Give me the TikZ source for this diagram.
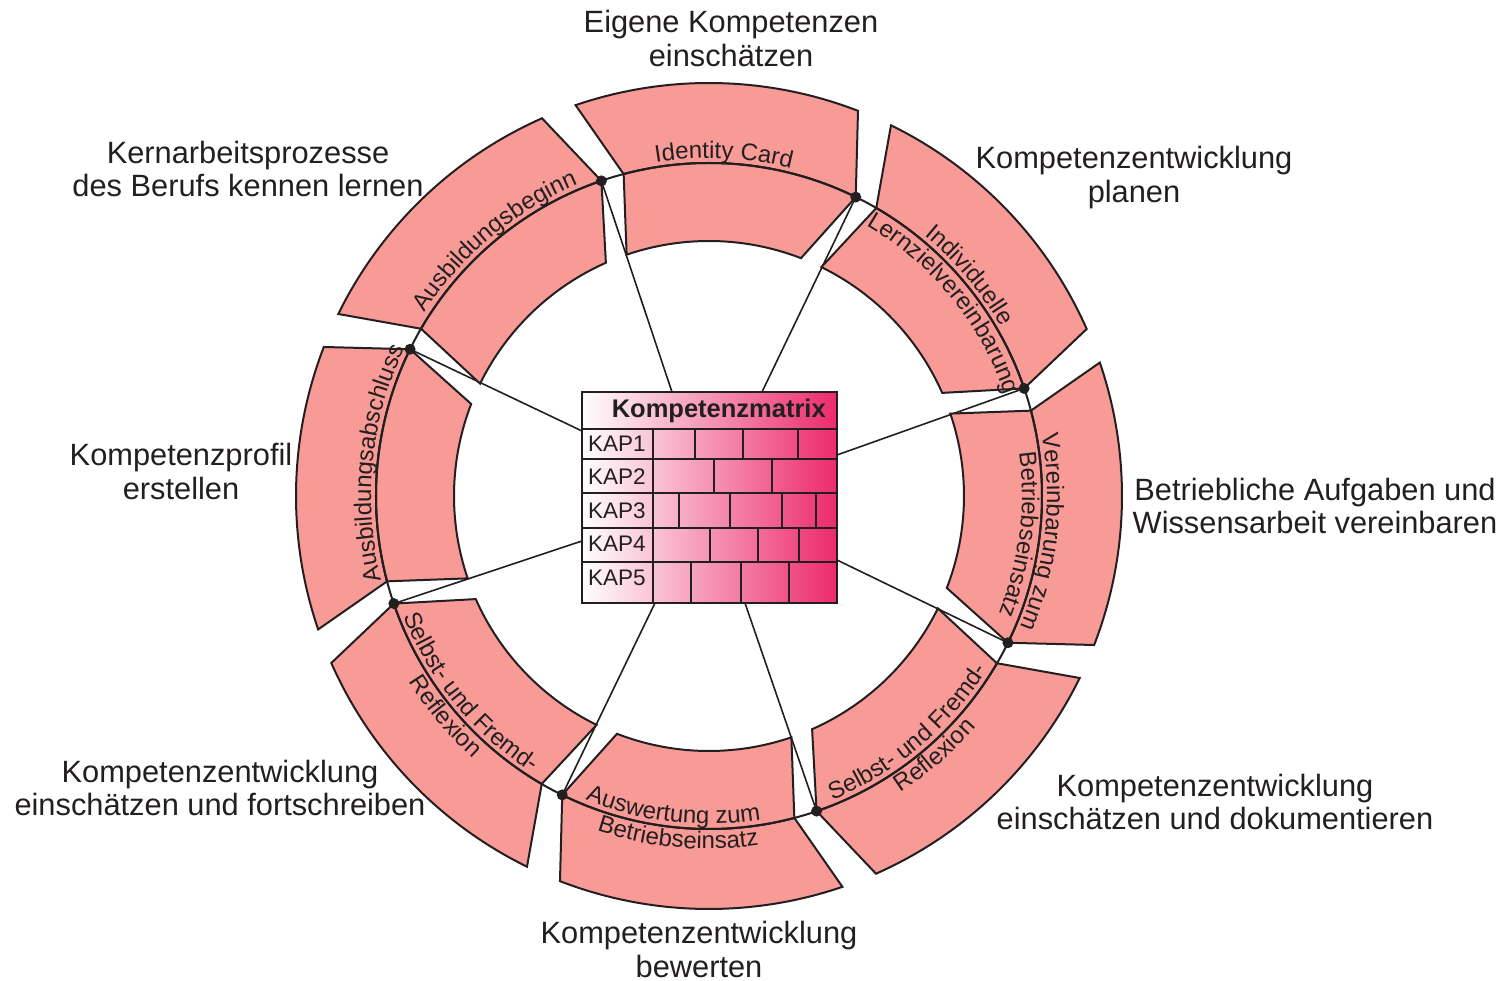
\documentclass[tikz,border=0pt]{standalone}
\usepackage{fontspec}
\setmainfont{Liberation Sans}
\usetikzlibrary{decorations.text}
\definecolor{ink}{HTML}{231F20}
\definecolor{salmon}{HTML}{F89B97}
\definecolor{boxpink}{HTML}{EC2A6C}
\newcommand\arcfont{\fontsize{24}{24}\selectfont}
\newcommand\lblfont{\fontsize{30.8}{33.5}\selectfont}
\newcommand\arctextcw[3]{%
  \path[decorate, decoration={text along path, text align=center, text={|\arcfont\color{ink}|#3}}]
    ({#2+40}:#1) arc[start angle={#2+40}, end angle={#2-40}, radius=#1];}
\newcommand\arctextccw[3]{%
  \path[decorate, decoration={text along path, text align=center, text={|\arcfont\color{ink}|#3}}]
    ({#2-40}:#1) arc[start angle={#2-40}, end angle={#2+40}, radius=#1];}
\begin{document}
\begin{tikzpicture}[x=1pt, y=1pt,
  piece/.style={draw=ink, fill=salmon, line width=2pt, line join=miter},
  conn/.style={draw=ink, line width=1.6pt},
  lbl/.style={align=center, font=\lblfont, text=ink, inner sep=0pt},
  kap/.style={anchor=west, font=\fontsize{22.5}{23}\selectfont, text=ink, inner sep=0pt},
  grid/.style={draw=ink, line width=2pt}]
\useasboundingbox (-709,-485) rectangle (796,496);

% dots on middle circle
\foreach \i/\a in {1/108.85,2/63.85,3/18.85,4/-26.15,5/-71.15,6/-116.15,7/198.85,8/153.85}
  \coordinate (d\i) at (\a:333);
% box attachment points
\coordinate (b1) at (-37,104);
\coordinate (b2) at (53,104);
\coordinate (b3) at (128,41);
\coordinate (b4) at (128,-64);
\coordinate (b5) at (36,-107);
\coordinate (b6) at (-54,-107);
\coordinate (b7) at (-127,-45);
\coordinate (b8) at (-127,65);

% connectors
\foreach \i in {1,...,8} \draw[conn] (d\i) -- (b\i);

% ring pieces
\foreach \d in {18.85,63.85,108.85,153.85,198.85,243.85,288.85,333.85} {
  \draw[piece] ({\d+45}:413) arc[start angle={\d+45}, end angle={\d+5}, radius=413]
     -- (\d:333) arc[start angle=\d, end angle={\d+41}, radius=333] -- cycle;
  \draw[piece] ({\d+41}:333) arc[start angle={\d+41}, end angle=\d, radius=333]
     -- ({\d+5}:255) arc[start angle={\d+5}, end angle={\d+45}, radius=255] -- cycle;
}
\draw[draw=ink, line width=2pt] (0,0) circle[radius=333];
\foreach \i in {1,...,8} \fill[ink] (d\i) circle[radius=5.5];

% central matrix
\node[name=km, draw=ink, line width=2pt, left color=white, right color=boxpink,
      minimum width=255pt, minimum height=211pt, inner sep=0pt] at (0.5,-1.5) {};
\draw[grid] (-127,66.7) -- (128,66.7);
\foreach \y in {37,2.7,-31.7,-65.7} \draw[grid] (-127,\y) -- (128,\y);
\draw[grid] (-55.7,66.7) -- (-55.7,-107);
\foreach \x in {-14,34.3,88.7} \draw[grid] (\x,66.7) -- (\x,37);
\foreach \x in {5.3,62.7} \draw[grid] (\x,37) -- (\x,2.7);
\foreach \x in {-29.7,21,73.3,106.7} \draw[grid] (\x,2.7) -- (\x,-31.7);
\foreach \x in {1,49.3,90.3} \draw[grid] (\x,-31.7) -- (\x,-65.7);
\foreach \x in {-18.3,32,80} \draw[grid] (\x,-65.7) -- (\x,-107);
\node[font=\bfseries\fontsize{25.5}{26}\selectfont, text=ink, inner sep=0pt] (hdr) at (9.8,85.5) {Kompetenzmatrix};
\node[kap] (k1) at (-121,52.7) {KAP1};
\node[kap] (k2) at (-121,19.3) {KAP2};
\node[kap] (k3) at (-121,-15.2) {KAP3};
\node[kap] (k4) at (-121,-48) {KAP4};
\node[kap] (k5) at (-121,-81.5) {KAP5};

% texts along the ring
\arctextcw{338}{130}{Ausbildungsbeginn}
\arctextcw{338}{87.5}{Identity Card}
\arctextcw{338}{40.3}{Individuelle}
\arctextcw{313}{39.3}{Lernzielvereinbarung}
\arctextcw{338}{-6.2}{Vereinbarung zum}
\arctextcw{313}{-7}{Betriebseinsatz}
\arctextcw{338}{174.3}{Ausbildungsabschluss}
\arctextccw{328}{-50}{Selbst- und Fremd-}
\arctextccw{353}{-49}{Reflexion}
\arctextccw{328}{-96.5}{Auswertung zum}
\arctextccw{353}{-95.2}{Betriebseinsatz}
\arctextccw{328}{219.4}{Selbst- und Fremd-}
\arctextccw{353}{219.9}{Reflexion}

% outer labels
\node[lbl] (l1) at (22,457.5) {Eigene Kompetenzen\\einschätzen};
\node[lbl] (l2) at (-461,327) {Kernarbeitsprozesse\\des Berufs kennen lernen};
\node[lbl] (l3) at (425,318.5) {Kompetenzentwicklung\\planen};
\node[lbl] (l4) at (606,-10) {Betriebliche Aufgaben und\\Wissensarbeit vereinbaren};
\node[lbl] (l5) at (-528,24.5) {Kompetenzprofil\\erstellen};
\node[lbl] (l6) at (-489,-292) {Kompetenzentwicklung\\einschätzen und fortschreiben};
\node[lbl] (l7) at (-10,-453.5) {Kompetenzentwicklung\\bewerten};
\node[lbl] (l8) at (506,-306) {Kompetenzentwicklung\\einschätzen und dokumentieren};
\end{tikzpicture}
\end{document}
